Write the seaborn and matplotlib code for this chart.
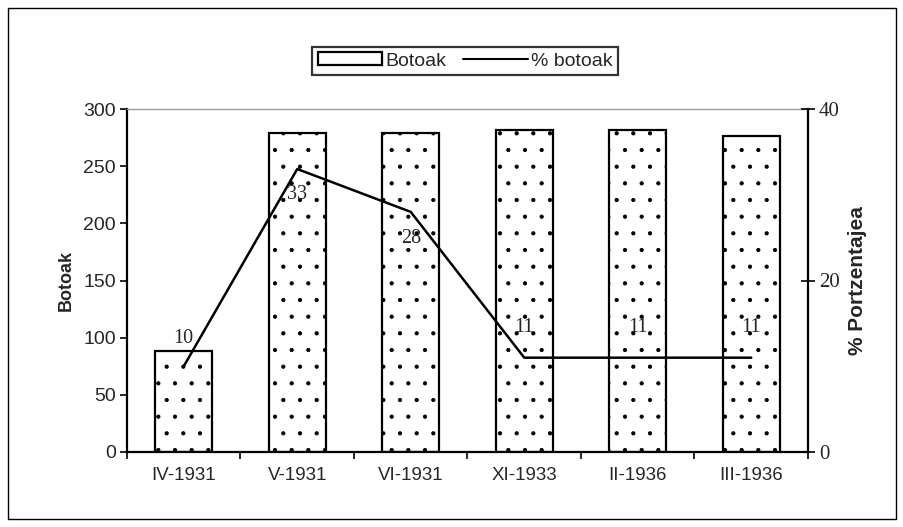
import matplotlib
matplotlib.use("Agg")
import matplotlib.pyplot as plt
from matplotlib.patches import Rectangle, Patch
from matplotlib.lines import Line2D
import seaborn as sns
import pandas as pd

categories = ["IV-1931", "V-1931", "VI-1931", "XI-1933", "II-1936", "III-1936"]
botoak = [88, 279, 279, 282, 282, 276]
pct_botoak = [10, 33, 28, 11, 11, 11]
pct_labels = ["10", "33", "28", "11", "11", "11"]

sns.set_theme(style="white")
plt.rcParams["font.family"] = ["Liberation Sans", "DejaVu Sans"]
plt.rcParams["hatch.linewidth"] = 0.6
plt.rcParams["hatch.color"] = "black"

NARROW = ["Liberation Sans Narrow", "Liberation Sans", "DejaVu Sans"]
SERIF = ["Liberation Serif", "DejaVu Serif"]

fig = plt.figure(figsize=(9.04, 5.27), dpi=100)
ax = fig.add_axes([127/904, 1-452/527, (808-127)/904, (452-109)/527])

df = pd.DataFrame({"cat": categories, "botoak": botoak})
sns.barplot(data=df, x="cat", y="botoak", ax=ax, color="white", width=0.5,
            edgecolor="black", linewidth=1.6, saturation=1)
for p in ax.patches:
    p.set_hatch(".")
    p.set_facecolor("white")

ax.set_xlim(-0.5, 5.5)
ax.set_ylim(0, 300)
ax.set_yticks([0, 50, 100, 150, 200, 250, 300])
ax.set_xticks(range(len(categories)))
ax.set_xticklabels(categories, fontsize=13.5, family=NARROW)
for t in ax.get_yticklabels():
    t.set_family(NARROW)
    t.set_fontsize(14)
ax.tick_params(axis="x", length=0, pad=11)
ax.set_xticks([i - 0.5 for i in range(len(categories) + 1)], minor=True)
ax.tick_params(axis="x", which="minor", length=5, width=1.2, color="black", direction="out", bottom=True)
ax.tick_params(axis="y", length=5, width=1.2, color="black", direction="out", left=True, pad=3)
ax.set_xlabel("")
ax.set_ylabel("Botoak", fontsize=13, fontweight="bold", labelpad=6)
for s in ["left", "bottom"]:
    ax.spines[s].set_color("black")
    ax.spines[s].set_linewidth(1.6)
ax.spines["top"].set_color("#999999")
ax.spines["top"].set_linewidth(1.0)
ax.spines["right"].set_visible(False)

ax2 = ax.twinx()
ax2.set_position(ax.get_position())
sns.lineplot(x=list(range(len(categories))), y=pct_botoak, ax=ax2, color="black", linewidth=1.8)
ax2.set_ylim(0, 40)
ax2.set_xlim(-0.5, 5.5)
ax2.set_yticks([0, 20, 40])
ax2.set_yticklabels(["0", "20", "40"])
for t in ax2.get_yticklabels():
    t.set_family(SERIF)
    t.set_fontsize(15)
ax2.tick_params(axis="y", length=10, width=1.2, color="black", direction="inout", right=True, pad=3)
ax2.set_ylabel("% Portzentajea", fontsize=15, fontweight="bold", labelpad=6, rotation=90)
for s in ["left", "bottom", "top"]:
    ax2.spines[s].set_visible(False)
ax2.spines["right"].set_color("black")
ax2.spines["right"].set_linewidth(1.6)

offsets = [20, -18, -19, 22, 22, 22]
for i, (v, lab) in enumerate(zip(pct_botoak, pct_labels)):
    ax2.annotate(lab, (i, v), xytext=(0, offsets[i]), textcoords="offset points",
                 ha="center", va="center", family=SERIF, fontsize=14.5)

handles = [Patch(facecolor="white", edgecolor="black", hatch=".", linewidth=1.6),
           Line2D([0], [0], color="black", linewidth=1.5)]
leg = fig.legend(handles, ["Botoak", "% botoak"], loc="center", bbox_to_anchor=(465/904, 1-61/527),
                 ncol=2, frameon=True, fancybox=False, edgecolor="black", fontsize=14,
                 handlelength=3.3, handleheight=0.6, handletextpad=0.15, columnspacing=0.9,
                 borderpad=0.3)
leg.get_frame().set_linewidth(1.6)

fig.patches.append(Rectangle((8/904, 8/527), 888/904, 511/527, transform=fig.transFigure,
                             fill=False, edgecolor="black", linewidth=1.0))

fig.savefig("out.png", dpi=100)
